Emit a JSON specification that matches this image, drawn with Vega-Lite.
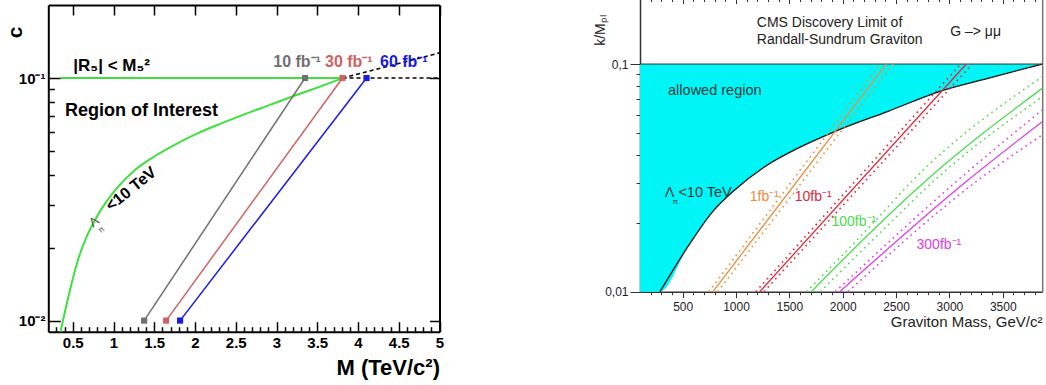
{
  "$schema": "https://vega.github.io/schema/vega-lite/v6.json",
  "width": 1046,
  "height": 385,
  "autosize": "none",
  "padding": 0,
  "background": "white",
  "config": {
    "view": {"stroke": null},
    "font": "Liberation Sans",
    "axis": {"grid": false, "labelFlush": false, "labelOverlap": false, "labelBound": false}
  },
  "resolve": {
    "scale": {"x": "independent", "y": "independent", "color": "independent"},
    "axis": {"x": "independent", "y": "independent"}
  },
  "layer": [
    {
      "resolve": {"axis": {"x": "independent", "y": "independent"}},
      "layer": [
        {
          "data": {"values": [
            {"M": 0.35, "c": 0.009}, {"M": 0.38, "c": 0.01}, {"M": 0.466, "c": 0.01337},
            {"M": 0.564, "c": 0.01778}, {"M": 0.663, "c": 0.0219}, {"M": 0.773, "c": 0.026},
            {"M": 0.908, "c": 0.0308}, {"M": 1.055, "c": 0.0356}, {"M": 1.264, "c": 0.0418},
            {"M": 1.509, "c": 0.0477}, {"M": 1.755, "c": 0.0532}, {"M": 2.037, "c": 0.0593},
            {"M": 2.331, "c": 0.0652}, {"M": 2.613, "c": 0.071}, {"M": 2.92, "c": 0.0775},
            {"M": 3.227, "c": 0.0847}, {"M": 3.534, "c": 0.0922}, {"M": 3.816, "c": 0.1}
          ]},
          "mark": {"type": "line", "color": "#3ee03e", "strokeWidth": 2, "interpolate": "monotone"},
          "encoding": {
            "x": {"field": "M", "type": "quantitative",
              "scale": {"domain": [0.2, 5], "range": [48.3, 439.5], "nice": false, "zero": false},
              "axis": {"orient": "bottom", "offset": -53.3, "values": [0.5, 1, 1.5, 2, 2.5, 3, 3.5, 4, 4.5, 5],
                "format": "~g", "tickSize": -10, "tickWidth": 1.5, "tickColor": "black",
                "domainColor": "black", "domainWidth": 2,
                "labelFont": "Liberation Sans", "labelFontWeight": "bold", "labelFontSize": 15, "labelColor": "black",
                "labelPadding": 14, "labelFlush": false,
                "title": "M (TeV/c²)", "titleFont": "Liberation Sans", "titleFontWeight": "bold", "titleFontSize": 22,
                "titleColor": "black", "titleX": 439.5, "titleY": 43, "titleAlign": "right", "titleBaseline": "alphabetic", "titleAngle": 0}},
            "y": {"field": "c", "type": "quantitative",
              "scale": {"type": "log", "domain": [0.009, 0.2], "range": [331.7, 5], "nice": false},
              "axis": {"orient": "left", "offset": -48.3, "values": [0.01, 0.1],
                "labelExpr": "datum.value < 0.05 ? '10⁻²' : '10⁻¹'",
                "tickSize": -12, "tickWidth": 1.5, "tickColor": "black",
                "domainColor": "black", "domainWidth": 2,
                "labelFont": "Liberation Sans", "labelFontWeight": "bold", "labelFontSize": 15, "labelColor": "black",
                "labelPadding": 15.3, "labelBaseline": "middle",
                "title": "c", "titleFont": "Liberation Sans", "titleFontWeight": "bold", "titleFontSize": 21, "titleColor": "black",
                "titleX": -33, "titleY": 32, "titleAngle": 270, "titleAlign": "center", "titleBaseline": "middle"}}
          }
        },
        {
          "data": {"values": [{"M": 0.35, "c": 0.1}, {"M": 3.81, "c": 0.1}]},
          "mark": {"type": "line", "color": "#3ee03e", "strokeWidth": 2},
          "encoding": {
            "x": {"field": "M", "type": "quantitative",
              "axis": {"orient": "bottom", "offset": -53.3,
                "values": [0.3,0.4,0.6,0.7,0.8,0.9,1.1,1.2,1.3,1.4,1.6,1.7,1.8,1.9,2.1,2.2,2.3,2.4,2.6,2.7,2.8,2.9,3.1,3.2,3.3,3.4,3.6,3.7,3.8,3.9,4.1,4.2,4.3,4.4,4.6,4.7,4.8,4.9],
                "tickSize": -5, "tickWidth": 1.5, "tickColor": "black", "labels": false, "domain": false, "title": null}},
            "y": {"field": "c", "type": "quantitative",
              "axis": {"orient": "left", "offset": -48.3,
                "values": [0.02,0.03,0.04,0.05,0.06,0.07,0.08,0.09],
                "tickSize": -6, "tickWidth": 1.5, "tickColor": "black", "labels": false, "domain": false, "title": null}}
          }
        },
        {
          "data": {"values": [
            {"seg": "h", "M": 3.81, "c": 0.1}, {"seg": "h", "M": 5, "c": 0.1},
            {"seg": "u", "M": 3.81, "c": 0.1}, {"seg": "u", "M": 5, "c": 0.127}
          ]},
          "mark": {"type": "line", "color": "black", "strokeWidth": 1.6, "strokeDash": [4, 3]},
          "encoding": {
            "detail": {"field": "seg"},
            "x": {"field": "M", "type": "quantitative",
              "axis": {"orient": "top", "offset": -5, "values": [0.5, 1, 1.5, 2, 2.5, 3, 3.5, 4, 4.5, 5],
                "tickSize": -10, "tickWidth": 1.5, "tickColor": "black", "labels": false,
                "domain": true, "domainColor": "black", "domainWidth": 2, "title": null}},
            "y": {"field": "c", "type": "quantitative",
              "axis": {"orient": "right", "offset": -606.5, "values": [0.01, 0.1],
                "tickSize": -10, "tickWidth": 1.5, "tickColor": "black", "labels": false,
                "domain": true, "domainColor": "black", "domainWidth": 2, "title": null}}
          }
        },
        {
          "data": {"values": [
            {"lumi": "10", "M": 1.376, "c": 0.01}, {"lumi": "10", "M": 3.35, "c": 0.1},
            {"lumi": "30", "M": 1.646, "c": 0.01}, {"lumi": "30", "M": 3.81, "c": 0.1},
            {"lumi": "60", "M": 1.817, "c": 0.01}, {"lumi": "60", "M": 4.105, "c": 0.1}
          ]},
          "layer": [
            {
              "mark": {"type": "line", "strokeWidth": 1.5},
              "encoding": {
                "color": {"field": "lumi", "type": "nominal", "legend": null,
                  "scale": {"domain": ["10", "30", "60"], "range": ["#707070", "#cf6262", "#1a1ae6"]}},
                "x": {"field": "M", "type": "quantitative",
                  "axis": {"orient": "top", "offset": -5,
                    "values": [0.3,0.4,0.6,0.7,0.8,0.9,1.1,1.2,1.3,1.4,1.6,1.7,1.8,1.9,2.1,2.2,2.3,2.4,2.6,2.7,2.8,2.9,3.1,3.2,3.3,3.4,3.6,3.7,3.8,3.9,4.1,4.2,4.3,4.4,4.6,4.7,4.8,4.9],
                    "tickSize": -5, "tickWidth": 1.5, "tickColor": "black", "labels": false, "domain": false, "title": null}},
                "y": {"field": "c", "type": "quantitative",
                  "axis": {"orient": "right", "offset": -606.5,
                    "values": [0.02,0.03,0.04,0.05,0.06,0.07,0.08,0.09],
                    "tickSize": -5, "tickWidth": 1.5, "tickColor": "black", "labels": false, "domain": false, "title": null}}
              }
            },
            {
              "mark": {"type": "square", "size": 38, "opacity": 1, "filled": true},
              "encoding": {
                "color": {"field": "lumi", "type": "nominal", "legend": null},
                "x": {"field": "M", "type": "quantitative", "axis": null},
                "y": {"field": "c", "type": "quantitative", "axis": null}
              }
            }
          ]
        },
        {
          "data": {"values": [
            {"t": "|R₅| < M₅²", "M": 0.507, "c": 0.1065}
          ]},
          "mark": {"type": "text", "align": "left", "baseline": "alphabetic", "font": "Liberation Sans", "fontWeight": "bold", "fontSize": 17, "color": "black"},
          "encoding": {
            "text": {"field": "t"},
            "x": {"field": "M", "type": "quantitative", "axis": null},
            "y": {"field": "c", "type": "quantitative", "axis": null}
          }
        },
        {
          "data": {"values": [
            {"t": "Region of Interest", "M": 0.405, "c": 0.0698}
          ]},
          "mark": {"type": "text", "align": "left", "baseline": "alphabetic", "font": "Liberation Sans", "fontWeight": "bold", "fontSize": 18, "color": "black"},
          "encoding": {
            "text": {"field": "t"},
            "x": {"field": "M", "type": "quantitative", "axis": null},
            "y": {"field": "c", "type": "quantitative", "axis": null}
          }
        },
        {
          "data": {"values": [
            {"t": "10 fb⁻¹", "lumi": "10", "M": 2.96, "c": 0.1106},
            {"t": "30 fb⁻¹", "lumi": "30", "M": 3.595, "c": 0.1106},
            {"t": "60 fb⁻¹", "lumi": "60", "M": 4.27, "c": 0.1106}
          ]},
          "mark": {"type": "text", "align": "left", "baseline": "alphabetic", "font": "Liberation Sans", "fontWeight": "bold", "fontSize": 16},
          "encoding": {
            "text": {"field": "t"},
            "color": {"field": "lumi", "type": "nominal", "legend": null},
            "x": {"field": "M", "type": "quantitative", "axis": null},
            "y": {"field": "c", "type": "quantitative", "axis": null}
          }
        },
        {
          "data": {"values": [{"t": "<10 TeV", "M": 1.215, "c": 0.0349}]},
          "mark": {"type": "text", "align": "center", "baseline": "middle", "font": "Liberation Sans", "fontWeight": "bold", "fontSize": 16, "color": "black", "angle": 321},
          "encoding": {
            "text": {"field": "t"},
            "x": {"field": "M", "type": "quantitative", "axis": null},
            "y": {"field": "c", "type": "quantitative", "axis": null}
          }
        },
        {
          "data": {"values": [{"t": "Λ", "M": 0.761, "c": 0.0255}]},
          "mark": {"type": "text", "align": "center", "baseline": "middle", "font": "Liberation Sans", "fontSize": 13, "color": "#555555", "angle": 321},
          "encoding": {
            "text": {"field": "t"},
            "x": {"field": "M", "type": "quantitative", "axis": null},
            "y": {"field": "c", "type": "quantitative", "axis": null}
          }
        },
        {
          "data": {"values": [{"t": "π", "M": 0.853, "c": 0.02363}]},
          "mark": {"type": "text", "align": "center", "baseline": "middle", "font": "Liberation Sans", "fontSize": 8, "color": "#555555", "angle": 321},
          "encoding": {
            "text": {"field": "t"},
            "x": {"field": "M", "type": "quantitative", "axis": null},
            "y": {"field": "c", "type": "quantitative", "axis": null}
          }
        }
      ]
    },
    {
      "resolve": {"axis": {"x": "independent", "y": "independent"}},
      "layer": [
        {
          "data": {"values": [
            {"m": 100, "k": 0.01}, {"m": 287, "k": 0.01}, {"m": 550, "k": 0.0158}, {"m": 768, "k": 0.0221},
            {"m": 988, "k": 0.028}, {"m": 1269, "k": 0.0354}, {"m": 1581, "k": 0.0427}, {"m": 1925, "k": 0.0505},
            {"m": 2425, "k": 0.062}, {"m": 2925, "k": 0.0763}, {"m": 3362, "k": 0.0866}, {"m": 3870, "k": 0.1}
          ]},
          "mark": {"type": "area", "color": "#00f6f6", "opacity": 1, "interpolate": "monotone"},
          "encoding": {
            "x": {"field": "m", "type": "quantitative",
              "scale": {"domain": [100, 3870], "range": [640, 1042.2], "nice": false, "zero": false},
              "axis": {"orient": "bottom", "offset": -93.3, "values": [500, 1000, 1500, 2000, 2500, 3000, 3500],
                "format": "d", "tickSize": 6, "tickWidth": 1, "tickColor": "#333333",
                "domainColor": "#333333", "domainWidth": 1.5,
                "labelFont": "Liberation Sans", "labelFontSize": 12, "labelColor": "#222222", "labelPadding": 4,
                "title": "Graviton Mass, GeV/c²", "titleFont": "Liberation Sans", "titleFontWeight": "normal", "titleFontSize": 15,
                "titleColor": "#222222", "titleX": 1042, "titleY": 35, "titleAlign": "right", "titleBaseline": "alphabetic", "titleAngle": 0}},
            "y": {"field": "k", "type": "quantitative",
              "scale": {"type": "log", "domain": [0.01, 0.2], "range": [291.7, -4.5], "nice": false},
              "axis": {"orient": "left", "offset": -640, "values": [0.01, 0.1],
                "labelExpr": "datum.value < 0.05 ? '0,01' : '0,1'",
                "tickSize": 10, "tickWidth": 1, "tickColor": "#333333",
                "domainColor": "#333333", "domainWidth": 1.5,
                "labelFont": "Liberation Sans", "labelFontSize": 12, "labelColor": "#222222", "labelPadding": 2, "labelBaseline": "middle",
                "title": "k/Mₚₗ", "titleFont": "Liberation Sans", "titleFontWeight": "normal", "titleFontSize": 14, "titleColor": "#222222",
                "titleX": -40, "titleY": 30, "titleAngle": 270, "titleAlign": "center", "titleBaseline": "middle"}},
            "y2": {"datum": 0.1}
          }
        },
        {
          "data": {"values": [
            {"m": 287, "k": 0.01}, {"m": 550, "k": 0.0158}, {"m": 768, "k": 0.0221},
            {"m": 988, "k": 0.028}, {"m": 1269, "k": 0.0354}, {"m": 1581, "k": 0.0427}, {"m": 1925, "k": 0.0505},
            {"m": 2425, "k": 0.062}, {"m": 2925, "k": 0.0763}, {"m": 3362, "k": 0.0866}, {"m": 3870, "k": 0.1}
          ]},
          "mark": {"type": "line", "color": "#111111", "strokeWidth": 1.3, "interpolate": "monotone"},
          "encoding": {
            "x": {"field": "m", "type": "quantitative",
              "axis": {"orient": "bottom", "offset": -93.3,
                "values": [200,300,400,600,700,800,900,1100,1200,1300,1400,1600,1700,1800,1900,2100,2200,2300,2400,2600,2700,2800,2900,3100,3200,3300,3400,3600,3700,3800],
                "tickSize": 3, "tickWidth": 1, "tickColor": "#333333", "labels": false, "domain": false, "title": null}},
            "y": {"field": "k", "type": "quantitative",
              "axis": {"orient": "left", "offset": -640,
                "values": [0.02,0.03,0.04,0.05,0.06,0.07,0.08,0.09],
                "tickSize": 4, "tickWidth": 1, "tickColor": "#333333", "labels": false, "domain": false, "title": null}}
          }
        },
        {
          "data": {"values": [{"m": 100, "k": 0.1}, {"m": 3870, "k": 0.1}]},
          "mark": {"type": "line", "color": "#333333", "strokeWidth": 1},
          "encoding": {
            "x": {"field": "m", "type": "quantitative",
              "axis": {"orient": "top", "offset": 4.5, "values": [500, 1000, 1500, 2000, 2500, 3000, 3500],
                "tickSize": -8, "tickWidth": 1, "tickColor": "#333333", "labels": false, "domain": false, "title": null}},
            "y": {"field": "k", "type": "quantitative",
              "axis": {"orient": "right", "offset": -3.8, "ticks": false, "labels": false,
                "domain": true, "domainColor": "#777777", "domainWidth": 1.5, "title": null}}
          }
        },
        {
          "data": {"values": [
            {"s": "1", "m": 784, "k": 0.01}, {"s": "1", "m": 2409, "k": 0.1},
            {"s": "10", "m": 1222, "k": 0.01}, {"s": "10", "m": 3159, "k": 0.1},
            {"s": "100", "m": 1706, "k": 0.01}, {"s": "100", "m": 2380, "k": 0.0206}, {"s": "100", "m": 2790, "k": 0.031}, {"s": "100", "m": 3870, "k": 0.0782},
            {"s": "300", "m": 1972, "k": 0.01}, {"s": "300", "m": 3178, "k": 0.031}, {"s": "300", "m": 3870, "k": 0.0558}
          ]},
          "mark": {"type": "line", "strokeWidth": 1.3, "interpolate": "monotone"},
          "encoding": {
            "color": {"field": "s", "type": "nominal", "legend": null,
              "scale": {"domain": ["1", "10", "100", "300"], "range": ["#f08c3c", "#e0283a", "#4cdc4c", "#e23ce2"]}},
            "x": {"field": "m", "type": "quantitative",
              "axis": {"orient": "top", "offset": 4.5,
                "values": [200,300,400,600,700,800,900,1100,1200,1300,1400,1600,1700,1800,1900,2100,2200,2300,2400,2600,2700,2800,2900,3100,3200,3300,3400,3600,3700,3800],
                "tickSize": -6, "tickWidth": 1, "tickColor": "#333333", "labels": false, "domain": false, "title": null}},
            "y": {"field": "k", "type": "quantitative", "axis": null}
          }
        },
        {
          "data": {"values": [
            {"s": "1", "side": "a", "m": 745, "k": 0.01}, {"s": "1", "side": "a", "m": 2350, "k": 0.1},
            {"s": "1", "side": "b", "m": 828, "k": 0.01}, {"s": "1", "side": "b", "m": 2470, "k": 0.1},
            {"s": "10", "side": "a", "m": 1185, "k": 0.01}, {"s": "10", "side": "a", "m": 3105, "k": 0.1},
            {"s": "10", "side": "b", "m": 1262, "k": 0.01}, {"s": "10", "side": "b", "m": 3215, "k": 0.1},
            {"s": "100", "side": "a", "m": 1660, "k": 0.01}, {"s": "100", "side": "a", "m": 2310, "k": 0.0206}, {"s": "100", "side": "a", "m": 2662, "k": 0.031}, {"s": "100", "side": "a", "m": 3870, "k": 0.0879},
            {"s": "100", "side": "b", "m": 1790, "k": 0.01}, {"s": "100", "side": "b", "m": 2470, "k": 0.0206}, {"s": "100", "side": "b", "m": 2866, "k": 0.031}, {"s": "100", "side": "b", "m": 3870, "k": 0.0718},
            {"s": "300", "side": "a", "m": 1930, "k": 0.01}, {"s": "300", "side": "a", "m": 3084, "k": 0.031}, {"s": "300", "side": "a", "m": 3870, "k": 0.0628},
            {"s": "300", "side": "b", "m": 2050, "k": 0.01}, {"s": "300", "side": "b", "m": 3272, "k": 0.031}, {"s": "300", "side": "b", "m": 3870, "k": 0.0488}
          ]},
          "mark": {"type": "line", "strokeWidth": 1.6, "strokeDash": [1.6, 4], "interpolate": "monotone"},
          "encoding": {
            "color": {"field": "s", "type": "nominal", "legend": null},
            "detail": {"field": "side"},
            "x": {"field": "m", "type": "quantitative", "axis": null},
            "y": {"field": "k", "type": "quantitative", "axis": null}
          }
        },
        {
          "data": {"values": [
            {"t": "1fb⁻¹", "s": "1", "m": 1129, "k": 0.025},
            {"t": "10fb⁻¹", "s": "10", "m": 1551, "k": 0.025},
            {"t": "100fb⁻¹", "s": "100", "m": 1895, "k": 0.0195},
            {"t": "300fb⁻¹", "s": "300", "m": 2692, "k": 0.0154}
          ]},
          "mark": {"type": "text", "align": "left", "baseline": "alphabetic", "font": "Liberation Sans", "fontSize": 14},
          "encoding": {
            "text": {"field": "t"},
            "color": {"field": "s", "type": "nominal", "legend": null},
            "x": {"field": "m", "type": "quantitative", "axis": null},
            "y": {"field": "k", "type": "quantitative", "axis": null}
          }
        },
        {
          "data": {"values": [
            {"t": "CMS Discovery Limit of", "m": 1195, "k": 0.146},
            {"t": "Randall-Sundrum Graviton", "m": 1195, "k": 0.1224},
            {"t": "G –> μμ", "m": 3008, "k": 0.1327}
          ]},
          "mark": {"type": "text", "align": "left", "baseline": "alphabetic", "font": "Liberation Sans", "fontSize": 14, "color": "#222222"},
          "encoding": {
            "text": {"field": "t"},
            "x": {"field": "m", "type": "quantitative", "axis": null},
            "y": {"field": "k", "type": "quantitative", "axis": null}
          }
        },
        {
          "data": {"values": [
            {"t": "allowed region", "m": 363, "k": 0.0731},
            {"t": "Λ", "m": 332, "k": 0.026},
            {"t": "<10 TeV", "m": 460, "k": 0.026}
          ]},
          "mark": {"type": "text", "align": "left", "baseline": "alphabetic", "font": "Liberation Sans", "fontSize": 14.5, "color": "#1c3a3a"},
          "encoding": {
            "text": {"field": "t"},
            "x": {"field": "m", "type": "quantitative", "axis": null},
            "y": {"field": "k", "type": "quantitative", "axis": null}
          }
        },
        {
          "data": {"values": [{"t": "π", "m": 405, "k": 0.0243}]},
          "mark": {"type": "text", "align": "left", "baseline": "alphabetic", "font": "Liberation Sans", "fontSize": 8, "color": "#1c3a3a"},
          "encoding": {
            "text": {"field": "t"},
            "x": {"field": "m", "type": "quantitative", "axis": null},
            "y": {"field": "k", "type": "quantitative", "axis": null}
          }
        }
      ]
    }
  ]
}
